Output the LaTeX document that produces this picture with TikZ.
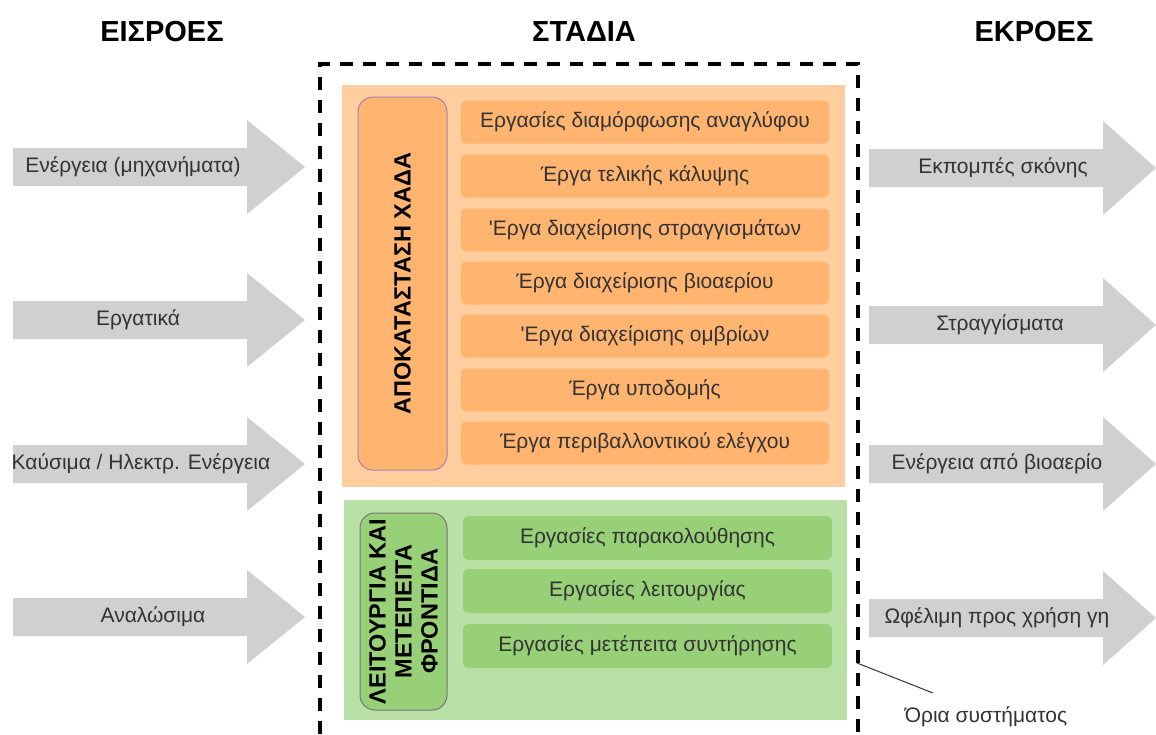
\documentclass[tikz,border=0pt]{standalone}
\usepackage{fontspec}
\setmainfont{Liberation Sans}
\newfontfamily\plainsans{Liberation Sans}
\definecolor{cArrow}{HTML}{D0D0D0}
\definecolor{cOPanel}{HTML}{FFCE9F}
\definecolor{cOItem}{HTML}{FFB570}
\definecolor{cOBorder}{HTML}{A680B8}
\definecolor{cGPanel}{HTML}{B9E0A5}
\definecolor{cGItem}{HTML}{97D077}
\definecolor{cGBorder}{HTML}{777777}
\definecolor{cText}{HTML}{333333}
\newcommand{\grayarrow}[4]{% x0, xhead, xtip, yc
  \fill[cArrow] (#1,#4-19) -- (#2,#4-19) -- (#2,#4-47) -- (#3,#4) -- (#2,#4+47) -- (#2,#4+19) -- (#1,#4+19) -- cycle;}
\begin{document}
\begin{tikzpicture}[x=1pt,y=-1pt,
  title/.style={font=\plainsans\fontsize{29}{31}\selectfont\bfseries, text=black},
  txt/.style={font=\plainsans\fontsize{21}{23}\selectfont, text=cText},
  oitem/.style={fill=cOItem, rounded corners=5pt, minimum width=368pt, minimum height=43pt, inner sep=0pt, txt},
  gitem/.style={fill=cGItem, rounded corners=5pt, minimum width=369pt, minimum height=44pt, inner sep=0pt, txt},
  vlabel/.style={rotate=90, rounded corners=15pt, line width=1pt, inner sep=0pt, align=center,
    font=\plainsans\fontsize{23.5}{26}\selectfont\bfseries, text=black},
  boundary/.style={line width=4pt, dash pattern=on 13pt off 10pt}
]
\useasboundingbox (0,0) rectangle (1156,734);
\fill[white] (0,0) rectangle (1156,734);

% titles
\node[title] (tin) at (162,32) {ΕΙΣΡΟΕΣ};
\node[title] (tst) at (584,32) {ΣΤΑΔΙΑ};
\node[title] (tout) at (1034,32) {ΕΚΡΟΕΣ};

% panels
\fill[cOPanel] (342,85) rectangle (845,487);
\fill[cGPanel] (344,500) rectangle (847,720);

% system boundary
\draw[boundary] (320,734) -- (320,64) -- (858,64) -- (858,734);

% orange stage
\node[vlabel, fill=cOItem, draw=cOBorder, minimum width=373pt, minimum height=89pt] (lab1) at (402.5,283.5) {ΑΠΟΚΑΤΑΣΤΑΣΗ ΧΑΔΑ};
\node[oitem] (o1) at (645,122) {Εργασίες διαμόρφωσης αναγλύφου};
\node[oitem] (o2) at (645,176) {Έργα τελικής κάλυψης};
\node[oitem] (o3) at (645,230) {'Εργα διαχείρισης στραγγισμάτων};
\node[oitem] (o4) at (645,283) {Έργα διαχείρισης βιοαερίου};
\node[oitem] (o5) at (645,336) {'Εργα διαχείρισης ομβρίων};
\node[oitem] (o6) at (645,390) {Έργα υποδομής};
\node[oitem] (o7) at (645,443) {Έργα περιβαλλοντικού ελέγχου};

% green stage
\node[vlabel, fill=cGItem, draw=cGBorder, minimum width=197pt, minimum height=87pt] (lab2) at (403.5,611.5) {ΛΕΙΤΟΥΡΓΙΑ ΚΑΙ\\ΜΕΤΕΠΕΙΤΑ\\ΦΡΟΝΤΙΔΑ};
\node[gitem] (g1) at (647.5,538) {Εργασίες παρακολούθησης};
\node[gitem] (g2) at (647.5,591) {Εργασίες λειτουργίας};
\node[gitem] (g3) at (647.5,646) {Εργασίες μετέπειτα συντήρησης};

% inputs
\grayarrow{13}{247}{305}{167}
\grayarrow{13}{247}{305}{320}
\grayarrow{13}{247}{305}{464}
\grayarrow{13}{247}{305}{617}
\node[txt] (i1) at (133,167) {Ενέργεια (μηχανήματα)};
\node[txt] (i2) at (138,320) {Εργατικά};
\node[txt] (i3) at (141,464) {Καύσιμα / Ηλεκτρ. Ενέργεια};
\node[txt] (i4) at (153,617) {Αναλώσιμα};

% outputs
\grayarrow{869}{1103}{1156}{168}
\grayarrow{869}{1103}{1156}{325}
\grayarrow{869}{1103}{1156}{464}
\grayarrow{869}{1103}{1156}{618}
\node[txt] (e1) at (1003,168) {Εκπομπές σκόνης};
\node[txt] (e2) at (1000,325) {Στραγγίσματα};
\node[txt] (e3) at (997,464) {Ενέργεια από βιοαερίο};
\node[txt] (e4) at (997,618) {Ωφέλιμη προς χρήση γη};

% callout
\coordinate (cb) at (857,663);
\coordinate (ce) at (933,693);
\draw[line width=1pt, black!80] (cb) -- (ce);
\node[txt] (note) at (986,717) {Όρια συστήματος};
\end{tikzpicture}
\end{document}
